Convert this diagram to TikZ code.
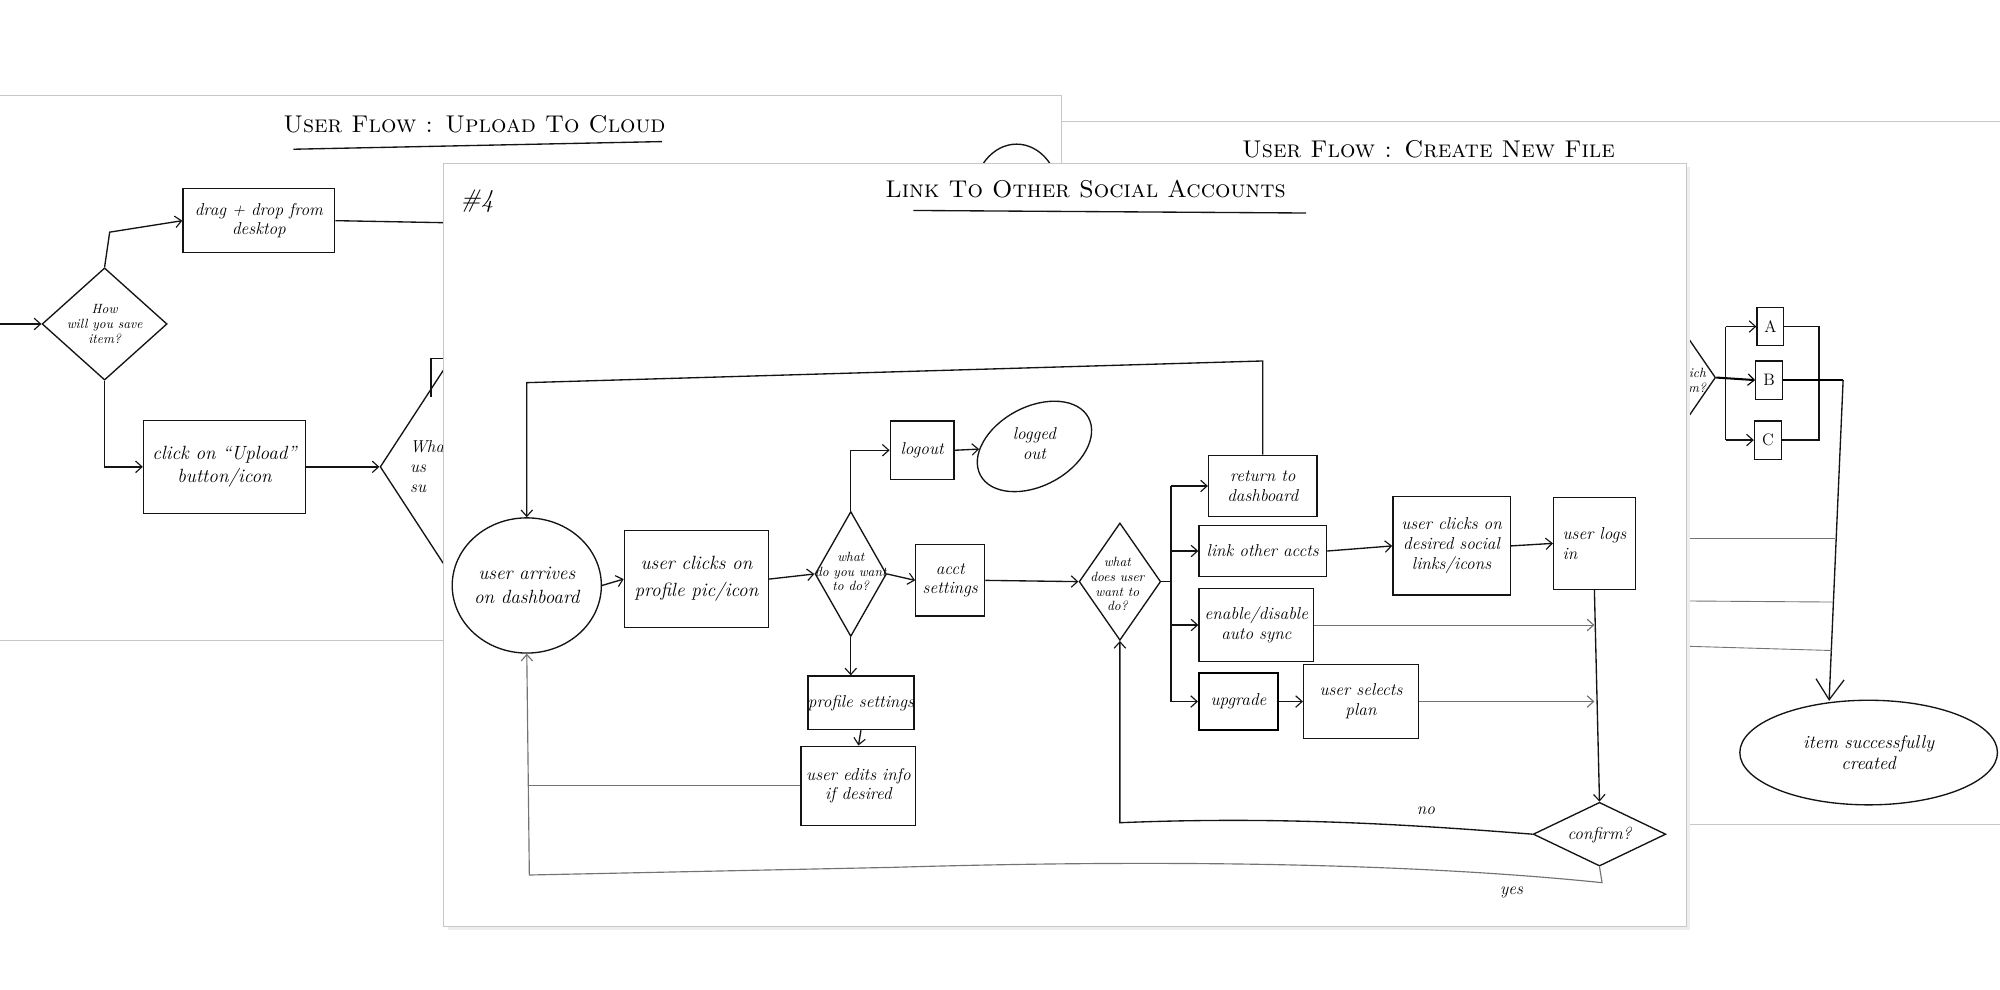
\documentclass[tikz,border=0pt]{standalone}
\usetikzlibrary{shapes.geometric,arrows.meta}
\begin{document}
\begin{tikzpicture}[x=1pt,y=-1pt,
  pen/.style={line width=1.05pt, draw=black!92},
  thick pen/.style={line width=1.6pt, draw=black},
  faint/.style={line width=0.7pt, draw=black!55},
  arr/.style={-{Straight Barb[length=5pt,width=9pt,line width=0.9pt]}},
  sheet/.style={draw=black!22, fill=white, line width=0.7pt},
  hand/.style={font=\fontsize{13.5}{15.5}\selectfont\itshape},
  small hand/.style={font=\fontsize{10.5}{11.5}\selectfont\itshape},
  box/.style={pen, rectangle, inner sep=0pt, align=center, hand},
  dia/.style={pen, diamond, inner sep=0pt},
  oval/.style={pen, ellipse, inner sep=0pt},
  ttl/.style={font=\fontsize{19}{20}\selectfont\scshape},
]
\useasboundingbox (0,0) rectangle (1568,776);
\begin{scope}
\clip (0,0) rectangle (1568,776);
\fill[white] (0,0) rectangle (1568,776);

%% ---------------- sheet: create new file (back, right)
\path[sheet] (700,95) rectangle (1620,646);
\node[ttl] (t2) at (1120,117) {User Flow : Create New File};
\node[dia, minimum width=110, minimum height=160] (which) at (1290,296) {};
\node[small hand, align=right, anchor=east] (whicht) at (1341,298) {which\\item?};
\node[box, minimum width=21, minimum height=30, font=\fontsize{13}{14}\selectfont] (A) at (1388,256) {A};
\node[box, minimum width=21, minimum height=30, font=\fontsize{13}{14}\selectfont] (B) at (1387,298) {B};
\node[box, minimum width=21, minimum height=30, font=\fontsize{13}{14}\selectfont] (C) at (1386,345) {C};
\node[oval, minimum width=202, minimum height=82, align=center, font=\fontsize{14.5}{17}\selectfont\itshape] (created) at (1465,590) {item successfully\\created};
\coordinate (abr) at (1353,298);
\coordinate (abr2) at (1426,298);
\coordinate (bdown) at (1445,298);
\draw[thick pen, arr] (which.east) -- (B.west);
\draw[pen] (abr |- A.west) -- (abr |- C.west);
\draw[pen, arr] (abr |- A.west) -- (A.west);
\draw[pen, arr] (abr |- C.west) -- (C.west);
\draw[pen] (A.east) -- (abr2 |- A.east) -- (abr2 |- C.east) -- (C.east);
\draw[thick pen] (B.east) -- (bdown);
\draw[pen, -{Straight Barb[length=16pt,width=22pt,line width=1pt]}] (bdown) -- ([xshift=-31pt,yshift=-1pt]created.north);
\coordinate (h1) at (1439,422);
\coordinate (h2) at (1437,472);
\coordinate (h3) at (1436,510);
\draw[faint] (1300,422) -- (h1);
\draw[faint] (1300,471) -- (h2);
\draw[faint] (1300,506) -- (h3);

%% ---------------- sheet: upload to cloud (middle, left)
\path[sheet] (-20,75) rectangle (832,502);
\node[ttl] (t1) at (372,97) {User Flow : Upload To Cloud};
\draw[pen] (230,117) -- (519,111);
\node[dia, minimum width=98, minimum height=88] (save) at (82,254) {};
\node[small hand, align=center] (savet) at (82,254) {How\\will you save\\item?};
\node[box, minimum width=119, minimum height=50] (drag) at (203,173) {drag + drop from\\desktop};
\node[box, minimum width=127, minimum height=73, font=\fontsize{15}{18}\selectfont\itshape] (upclick) at (176,366) {click on ``Upload''\\button/icon};
\node[dia, minimum width=124, minimum height=190] (what) at (360,366) {};
\node[hand, align=left, anchor=west] (whatt) at (318,366) {What\\us\\su};
\node[oval, minimum width=68, minimum height=84] (ul) at (797,155) {};
\coordinate (in1) at (0,254);
\coordinate (s1) at (86,182);
\coordinate (dr) at (370,175);
\coordinate (wt) at (338,281);
\draw[pen, arr] (in1) -- (save.west);
\draw[pen, arr] (save.north) -- (s1) -- (drag.west);
\draw[pen, arr] (save.south) |- (upclick.west);
\draw[pen, arr] (upclick.east) -- (what.west);
\draw[pen] (drag.east) -- (dr);
\draw[pen] (wt) -- ++(0,30);
\draw[pen] (wt) -- ++(14,0);

%% ---------------- sheet #4: link to other social accounts (front)
\fill[black!7] (351,131) rectangle (1325,729);
\path[sheet] (348,128) rectangle (1322,726);
\node[font=\fontsize{20}{22}\selectfont\itshape] (num) at (374,158) {\#4};
\node[ttl] (t4) at (851,148) {Link To Other Social Accounts};
\draw[pen] (716,165) -- (1024,167);

\node[oval, minimum width=106, minimum height=106, align=center, font=\fontsize{15}{19}\selectfont\itshape] (dash) at (413,459) {user arrives\\on dashboard};
\node[box, minimum width=113, minimum height=76, font=\fontsize{15}{21}\selectfont\itshape] (clicks) at (546,454) {user clicks on\\profile pic/icon};
\node[dia, minimum width=56, minimum height=98] (wdo) at (667,450) {};
\node[small hand, align=center] (wdot) at (667,448) {what\\do you want\\to do?};
\node[box, minimum width=50, minimum height=46] (logout) at (723,353) {logout};
\node[pen, ellipse, minimum width=96, minimum height=62, rotate=28] (lo) at (811,350) {};
\node[hand, align=center] (lot) at (811,348) {logged\\out};
\node[box, minimum width=54, minimum height=56] (acct) at (745,455) {acct\\settings};
\node[dia, minimum width=64, minimum height=92] (wdu) at (878,456) {};
\node[small hand, align=center] (wdut) at (876,458) {what\\does user\\want to\\do?};
\node[box, minimum width=85, minimum height=48] (ret) at (990,381) {return to\\dashboard};
\node[box, minimum width=100, minimum height=40] (link) at (990,432) {link other accts};
\node[box, minimum width=92, minimum height=77] (desired) at (1138,428) {user clicks on\\desired social\\links/icons};
\node[box, minimum width=64, minimum height=72, align=left] (logsin) at (1250,426) {user logs\\in};
\node[box, minimum width=90, minimum height=57] (sync) at (985,490) {enable/disable\\auto sync};
\node[box, thick pen, minimum width=62, minimum height=44] (upgrade) at (971,550) {upgrade};
\node[box, minimum width=90, minimum height=58] (selects) at (1067,550) {user selects\\plan};
\node[dia, minimum width=104, minimum height=50] (confirm) at (1254,654) {};
\node[hand] (confirmt) at (1254,655) {confirm?};
\node[box, minimum width=78, minimum height=42] (profile) at (675,551) {profile settings};
\node[box, minimum width=90, minimum height=62] (edits) at (673,616) {user edits info\\if desired};
\node[hand] (no) at (1118,636) {no};
\node[hand] (yes) at (1185,700) {yes};

\coordinate (loopR) at (990,283);
\coordinate (loopL) at (413,300);
\coordinate (br) at (918,456);
\coordinate (yesL) at (415,686);
\coordinate (yesR) at (1256,692);
\coordinate (noL) at (878,645);

\draw[pen, arr] (ret.north) -- (loopR) -- (loopL) -- (dash.north);
\draw[pen, arr] (dash.east) -- (clicks.west);
\draw[pen, arr] (clicks.east) -- (wdo.west);
\draw[pen, arr] (wdo.north) |- (logout.west);
\draw[pen, arr] (logout.east) -- (lo);
\draw[pen, arr] (wdo.east) -- (acct.west);
\draw[pen, arr] (acct.east) -- (wdu.west);
\draw[pen] (wdu.east) -- (br);
\draw[pen] (br |- ret.west) -- (br |- upgrade.west);
\draw[pen, arr] (br |- ret.west) -- (ret.west);
\draw[pen, arr] (br |- link.west) -- (link.west);
\draw[pen, arr] (br |- sync.west) -- (sync.west);
\draw[pen, arr] (br |- upgrade.west) -- (upgrade.west);
\draw[pen, arr] (link.east) -- (desired.west);
\draw[pen, arr] (desired.east) -- (logsin.west);
\draw[pen, arr] (logsin.south) -- (confirm.north);
\draw[faint, arr] (sync.east) -- (logsin.south |- sync.east);
\draw[pen, arr] (upgrade.east) -- (selects.west);
\draw[faint, arr] (selects.east) -- (logsin.south |- selects.east);
\draw[pen, arr] (wdo.south) -- (wdo.south |- profile.north);
\draw[pen, arr] (profile.south) -- (edits.north);
\draw[faint, line width=1.1pt] (edits.west) -- (yesL |- edits.west);
\draw[pen, arr] (confirm.west) .. controls (1100,646) and (1000,640) .. (noL) -- (wdu.south);
\draw[faint, line width=0.9pt, arr] (confirm.south) -- (yesR) .. controls (1100,676) and (900,674) .. (700,680) -- (yesL) -- (dash.south);
\end{scope}
\end{tikzpicture}
\end{document}
